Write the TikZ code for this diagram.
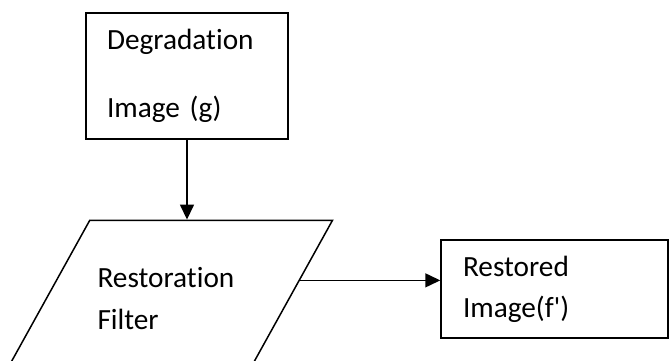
\documentclass[tikz,border=0pt]{standalone}
\usepackage{fontspec}
\setmainfont{Carlito}[Ligatures={NoCommon,NoContextual}]
\usetikzlibrary{shapes.geometric,arrows.meta}

\begin{document}
\begin{tikzpicture}[x=1pt,y=-1pt,line width=1.5pt,
	stagebox/.style={draw,rectangle,align=left,font=\fontsize{29.3}{41}\selectfont},
	filterbox/.style={draw,trapezium,trapezium left angle=61,trapezium right angle=119,align=left,text width=140pt,inner xsep=7.75pt,inner ysep=47.5pt,font=\fontsize{29.3}{42}\selectfont},
	arr/.style={-{Triangle[length=15pt,width=14pt]}}]
\useasboundingbox (0,0) rectangle (669,361);
\clip (0,0) rectangle (669,361);
\node[stagebox,minimum width=202pt,minimum height=126pt,text width=160pt,inner xsep=21pt,font=\fontsize{29.3}{68}\selectfont](deg) at (187,76){Degradation\\Image (g)};
\node[filterbox](filt) at (167.5,299){Restoration\\Filter};
\node[stagebox,minimum width=227pt,minimum height=98pt,text width=183pt,inner xsep=22pt](out) at (554.5,289){Restored\\Image(f\textquotesingle)};
\draw[arr] (deg.south) -- (deg.south |- filt.north);
\draw[arr] (filt.8) -- (filt.8 -| out.west);
\end{tikzpicture}
\end{document}
